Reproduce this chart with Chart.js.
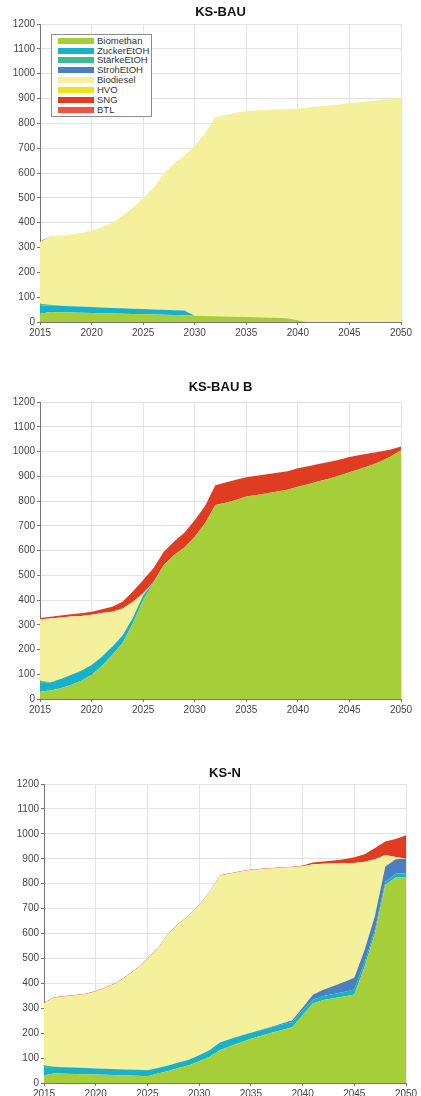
<!DOCTYPE html>
<html>
<head>
<meta charset="utf-8">
<script src="https://cdn.jsdelivr.net/npm/chart.js@4.4.1/dist/chart.umd.min.js"></script>
<style>
html,body{margin:0;padding:0;background:#fff;width:421px;height:1096px;overflow:hidden;position:relative}
canvas{position:absolute;left:0}
#legend{position:absolute;left:51px;top:34px;width:99px;height:81px;border:1px solid #8c8c8c;background:#fff;font:9.5px "Liberation Sans",Arial,sans-serif;color:#333;z-index:2}
#legend .it{position:absolute;left:0;height:10px;width:99px}
#legend .sw{position:absolute;left:6px;top:2px;width:36px;height:6px}
#legend .tx{position:absolute;left:45px;top:0;line-height:10px;white-space:nowrap}
</style>
</head>
<body>
<canvas id="c1" width="421" height="345" style="top:0px"></canvas>
<canvas id="c2" width="421" height="344" style="top:378px"></canvas>
<canvas id="c3" width="421" height="336" style="top:760px"></canvas>
<div id="legend"></div>
<script>
// ---------- categories ----------
const years = [2015,2016,2017,2018,2019,2020,2021,2022,2023,2024,2025,2026,2027,2028,2029,2030,2031,2032,2033,2034,2035,2036,2037,2038,2039,2040,2041,2042,2043,2044,2045,2046,2047,2048,2049,2050];
const seriesNames = ["Biomethan","ZuckerEtOH","StärkeEtOH","StrohEtOH","Biodiesel","HVO","SNG","BTL"];
const titles = ["KS-BAU","KS-BAU B","KS-N"];
const yTicks = [0,100,200,300,400,500,600,700,800,900,1000,1100,1200];
const xTicks = [2015,2020,2025,2030,2035,2040,2045,2050];

// ---------- KS-BAU ----------
const bauBiomethan = [33,40,39,38,37,36,35,34,33,32,31,30,29,28,27,25,24,23,22,21,20,19,18,17,15,7,0,0,0,0,0,0,0,0,0,0];
const bauZucker    = [32,27,26,25,25,24,23,22,22,21,21,20,20,19,19,0,0,0,0,0,0,0,0,0,0,0,0,0,0,0,0,0,0,0,0,0];
const bauStaerke   = [8,2,0,0,0,0,0,0,0,0,0,0,0,0,0,0,0,0,0,0,0,0,0,0,0,0,0,0,0,0,0,0,0,0,0,0];
const bauStroh     = [0,0,0,0,0,0,0,0,0,0,0,0,0,0,0,0,0,0,0,0,0,0,0,0,0,0,0,0,0,0,0,0,0,0,0,0];
const bauBiodiesel = [249,274,283,289,296,308,324,344,373,407,446,490,549,591,624,685,736,802,813,822,830,833,837,840,843,853,864,868,872,876,882,886,890,895,900,905];
const bauHVO       = [0,0,0,0,0,0,0,0,0,0,0,0,0,0,0,0,0,0,0,0,0,0,0,0,0,0,0,0,0,0,0,0,0,0,0,0];
const bauSNG       = [3,1,0,0,0,0,0,0,0,0,0,0,0,0,0,0,0,0,0,0,0,0,0,0,0,0,0,0,0,0,0,0,0,0,0,0];
const bauBTL       = [0,0,0,0,0,0,0,0,0,0,0,0,0,0,0,0,0,0,0,0,0,0,0,0,0,0,0,0,0,0,0,0,0,0,0,0];

// ---------- KS-BAU B ----------
const baubBiomethan = [30,34,43,57,74,97,133,178,225,305,400,470,541,582,612,656,710,784,793,804,818,824,831,838,845,858,868,880,890,902,916,929,943,960,980,1005];
const baubZucker    = [34,33,38,40,40,40,38,33,32,22,18,4,0,0,0,0,0,0,0,0,0,0,0,0,0,0,0,0,0,0,0,0,0,0,0,0];
const baubStaerke   = [10,1,0,0,0,0,0,0,0,0,0,0,0,0,0,0,0,0,0,0,0,0,0,0,0,0,0,0,0,0,0,0,0,0,0,0];
const baubStroh     = [0,0,0,0,0,0,0,0,0,0,0,0,0,0,0,0,0,0,0,0,0,0,0,0,0,0,0,0,0,0,0,0,0,0,0,0];
const baubBiodiesel = [248,257,248,236,221,203,176,142,109,66,9,0,0,0,0,0,0,0,0,0,0,0,0,0,0,0,0,0,0,0,0,0,0,0,0,0];
const baubHVO       = [0,0,0,0,0,0,0,0,0,0,0,0,0,0,0,0,0,0,0,0,0,0,0,0,0,0,0,0,0,0,0,0,0,0,0,0];
const baubSNG       = [5,7,8,9,11,13,16,20,27,41,54,54,54,54,60,66,70,80,82,82,78,78,77,76,75,74,72,70,68,65,62,57,50,40,28,15];
const baubBTL       = [0,0,0,0,0,0,0,0,0,0,0,0,0,0,0,0,0,0,0,0,0,0,0,0,0,0,0,0,0,0,0,0,0,0,0,0];

// ---------- KS-N ----------
const ksnBiomethan = [31,38,37,36,35,34,33,31,30,29,27,38,48,60,71,87,105,131,147,163,178,190,202,213,224,272,319,333,340,347,355,467,601,795,825,825];
const ksnZucker    = [32,26,26,26,25,24,24,24,24,24,24,22,22,22,22,24,26,32,30,27,24,23,22,22,21,20,15,16,17,18,20,18,15,13,15,17];
const ksnStaerke   = [8,1,0,0,0,0,0,0,0,0,0,0,0,0,0,0,0,0,0,0,0,0,0,0,0,0,0,0,0,0,0,0,0,0,0,0];
const ksnStroh     = [0,0,0,0,0,0,0,0,0,0,0,0,0,0,0,0,0,0,0,0,0,1,2,4,7,10,20,25,32,40,47,50,55,61,58,58];
const ksnBiodiesel = [249,277,284,289,296,309,325,345,374,407,447,480,528,556,577,601,634,669,663,658,653,644,635,625,614,568,524,506,492,477,461,353,227,46,9,0];
const ksnHVO       = [0,0,0,0,0,0,0,0,0,0,0,0,0,0,0,0,0,0,0,0,0,0,0,0,0,0,0,0,0,0,0,0,0,0,0,0];
const ksnSNG       = [2,2,2,2,2,2,2,2,2,2,2,2,2,2,2,2,2,2,2,2,2,2,2,2,2,3,7,9,12,16,23,30,45,54,72,94];
const ksnBTL       = [0,0,0,0,0,0,0,0,0,0,0,0,0,0,0,0,0,0,0,0,0,0,0,0,0,0,0,0,0,0,0,0,0,0,0,0];

// ---------- styling ----------
const colors = ["#a6ce39","#16b2ca","#3dbd8f","#4a7fc1","#f5f09b","#ece41a","#e03c22","#f25244"];
const FONT = '"Liberation Sans", Arial, sans-serif';

// legend (HTML, real text)
const lg = document.getElementById('legend');
seriesNames.forEach((n,i)=>{
  const d = document.createElement('div'); d.className='it'; d.style.top=(0.7+i*9.86)+'px';
  const s = document.createElement('span'); s.className='sw'; s.style.background=colors[i];
  const t = document.createElement('span'); t.className='tx'; t.textContent=n;
  d.appendChild(s); d.appendChild(t); lg.appendChild(d);
});

function build(id, title, arrays, cfg){
  const datasets = arrays.map((arr,i)=>({
    label: seriesNames[i],
    data: years.map((x,j)=>({x:x, y:arr[j]})),
    backgroundColor: colors[i],
    borderColor: 'transparent',
    borderWidth: 0,
    pointRadius: 0,
    pointHoverRadius: 0,
    tension: 0,
    fill: i===0 ? 'origin' : '-1'
  }));
  new Chart(document.getElementById(id), {
    type: 'line',
    data: { datasets },
    options: {
      responsive: false,
      animation: false,
      events: [],
      layout: { padding: { left: 0, right: cfg.right, top: 0, bottom: 0 } },
      plugins: {
        legend: { display: false },
        tooltip: { enabled: false },
        title: {
          display: true, text: title, fullSize: false, color: '#111',
          font: { family: FONT, size: 13, weight: 'bold' },
          padding: { top: cfg.tTop, bottom: cfg.tBot }
        }
      },
      scales: {
        x: {
          type: 'linear', min: years[0], max: years[years.length-1],
          afterBuildTicks: s => { s.ticks = xTicks.map(v=>({value:v})); },
          afterFit: s => { s.height = cfg.xh; },
          ticks: { callback: v => String(v), color: '#444', font: { family: FONT, size: 10 }, padding: 2, maxRotation: 0, autoSkip: false },
          grid: { color: '#e3e3e3', lineWidth: 1, tickLength: 3, tickColor: '#777' },
          border: { color: '#777', width: 1 }
        },
        y: {
          stacked: true, min: 0, max: 1200,
          afterBuildTicks: s => { s.ticks = yTicks.map(v=>({value:v})); },
          afterFit: s => { s.width = cfg.yw; },
          ticks: { callback: v => String(v), color: '#444', font: { family: FONT, size: 10 }, padding: 2 },
          grid: { color: '#e3e3e3', lineWidth: 1, tickLength: 3, tickColor: '#777' },
          border: { color: '#777', width: 1 }
        }
      }
    }
  });
}

build('c1', titles[0], [bauBiomethan,bauZucker,bauStaerke,bauStroh,bauBiodiesel,bauHVO,bauSNG,bauBTL],
      { right: 20, yw: 40, xh: 23, tTop: 4.5, tBot: 3.9 });
build('c2', titles[1], [baubBiomethan,baubZucker,baubStaerke,baubStroh,baubBiodiesel,baubHVO,baubSNG,baubBTL],
      { right: 20, yw: 40, xh: 23, tTop: 1.7, tBot: 6.7 });
build('c3', titles[2], [ksnBiomethan,ksnZucker,ksnStaerke,ksnStroh,ksnBiodiesel,ksnHVO,ksnSNG,ksnBTL],
      { right: 15, yw: 44, xh: 13, tTop: 5.7, tBot: 2.7 });
</script>
</body>
</html>
